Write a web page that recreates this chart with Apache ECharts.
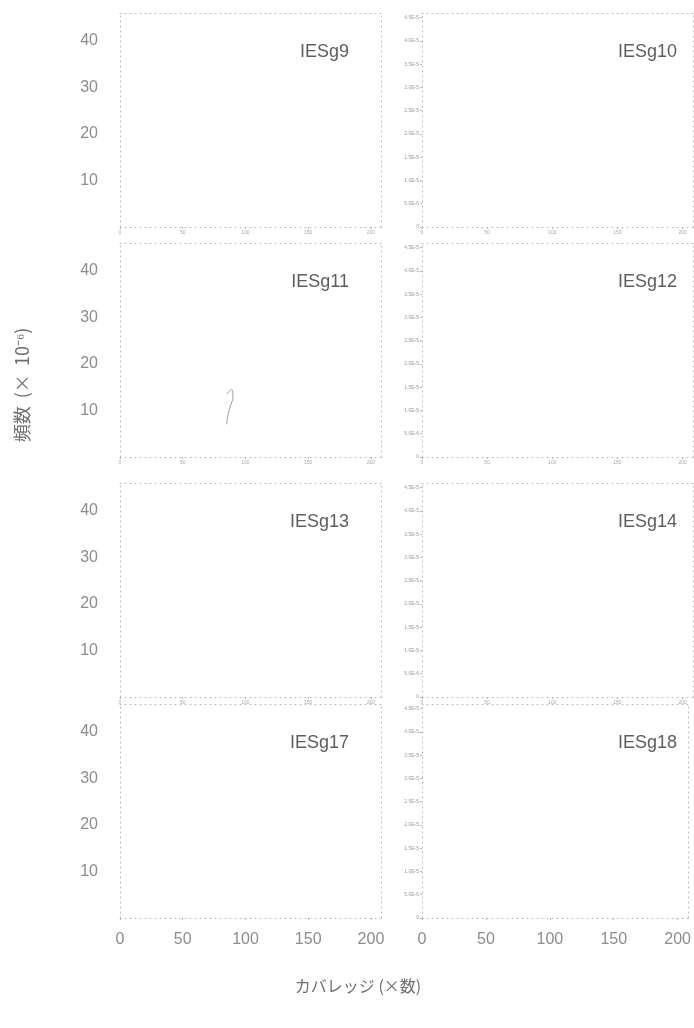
<!DOCTYPE html>
<html>
<head>
<meta charset="utf-8">
<script src="https://cdn.jsdelivr.net/npm/echarts@6/dist/echarts.min.js"></script>
<style>
  html, body { margin: 0; padding: 0; background: #fff; }
  #chart { width: 694px; height: 1028px; }
</style>
</head>
<body>
<div id="chart"></div>
<script>
// panel names, read row by row (left, right)
const panelNames = ['IESg9', 'IESg10', 'IESg11', 'IESg12', 'IESg13', 'IESg14', 'IESg17', 'IESg18']
// x axis: coverage (fold)
const coverageTicks = [0, 50, 100, 150, 200]
// y axis: frequency (x 10^-6), big labels on left column
const freqTicks = [10, 20, 30, 40]
// only curve fragment still visible in the scan (IESg11)
const iesg11Coverage = [85, 89, 90, 88, 86, 85]
const iesg11Freq = [13.5, 14.5, 13, 11, 9, 7]

const FONT = 'Liberation Sans'
const GREY = '#8c8c8c'
const FRAME = '#b8b8b8'

const rowTops = [13, 243, 483, 704]
const rowH = 214
const cols = [{ left: 120, width: 261 }, { left: 422, width: 271 }]

const chart = echarts.init(document.getElementById('chart'))

const grid = [], xAxis = [], yAxis = [], title = [], series = []
panelNames.forEach((name, i) => {
  const row = Math.floor(i / 2), col = i % 2
  const last = row === rowTops.length - 1
  grid.push({ left: cols[col].left, top: rowTops[row], width: cols[col].width, height: rowH })
  // scanned frame: sparse grey dots
  const dotted = { show: true, onZero: false, lineStyle: { color: FRAME, type: [1, 4], width: 1 } }
  // bottom x axis
  xAxis.push({
    gridIndex: i, type: 'value', min: 0, max: 208, interval: 50,
    axisLine: dotted,
    axisTick: { show: true, length: 2, lineStyle: { color: FRAME } },
    splitLine: { show: false },
    axisLabel: last
      ? { color: GREY, fontSize: 16, fontFamily: FONT, margin: 14, showMaxLabel: false,
          formatter: v => coverageTicks.includes(v) ? String(v) : '' }
      : { color: '#a8a8a8', fontSize: 5, fontFamily: FONT, margin: 3, showMaxLabel: false,
          formatter: v => coverageTicks.includes(v) ? String(v) : '' }
  })
  // top frame
  xAxis.push({
    gridIndex: i, type: 'value', position: 'top', min: 0, max: 208,
    axisLine: dotted, axisTick: { show: false }, axisLabel: { show: false }, splitLine: { show: false }
  })
  // left y axis
  yAxis.push(col === 0 ? {
    gridIndex: i, type: 'value', min: 0, max: 46, interval: 10,
    axisLine: dotted,
    axisTick: { show: false },
    splitLine: { show: false },
    axisLabel: { color: GREY, fontSize: 16, fontFamily: FONT, margin: 22, showMinLabel: false, showMaxLabel: false,
      formatter: v => freqTicks.includes(v) ? String(v) : '' }
  } : {
    gridIndex: i, type: 'value', min: 0, max: 46, interval: 5,
    axisLine: dotted,
    axisTick: { show: true, length: 2, lineStyle: { color: FRAME } },
    splitLine: { show: false },
    axisLabel: { color: '#9a9a9a', fontSize: 5, fontFamily: FONT, margin: 3, showMaxLabel: false,
      formatter: v => v === 0 ? '0' : (v * 1e-6).toExponential(1).toUpperCase() }
  })
  // right frame
  yAxis.push({
    gridIndex: i, type: 'value', position: 'right', min: 0, max: 46,
    axisLine: dotted, axisTick: { show: false }, axisLabel: { show: false }, splitLine: { show: false }
  })
  title.push({
    text: name,
    right: col === 0 ? 340 : 12,
    top: rowTops[row] + 25,
    textStyle: { color: '#5e5e5e', fontSize: 18, fontWeight: 'normal', fontFamily: FONT }
  })
  series.push({
    type: 'line', xAxisIndex: i * 2, yAxisIndex: i * 2,
    data: name === 'IESg11' ? iesg11Coverage.map((c, k) => [c, iesg11Freq[k]]) : [],
    showSymbol: false, smooth: true, silent: true,
    lineStyle: { color: '#9a9a9a', width: 1 }
  })
})

chart.setOption({
  animation: false,
  grid, xAxis, yAxis, title, series,
  graphic: [
    {
      type: 'text', x: 22, y: 385, rotation: Math.PI / 2,
      style: { text: '頻数  (×  10⁻⁶)', fill: '#6f6f6f', fontSize: 18,
        fontFamily: 'Noto Sans CJK JP', align: 'center', verticalAlign: 'middle' }
    },
    {
      type: 'text', x: 358, y: 986,
      style: { text: 'カバレッジ (×数)', fill: '#6f6f6f', fontSize: 16,
        fontFamily: 'Noto Sans CJK JP', align: 'center', verticalAlign: 'middle' }
    }
  ]
})
window.addEventListener('resize', () => chart.resize())
</script>
</body>
</html>
